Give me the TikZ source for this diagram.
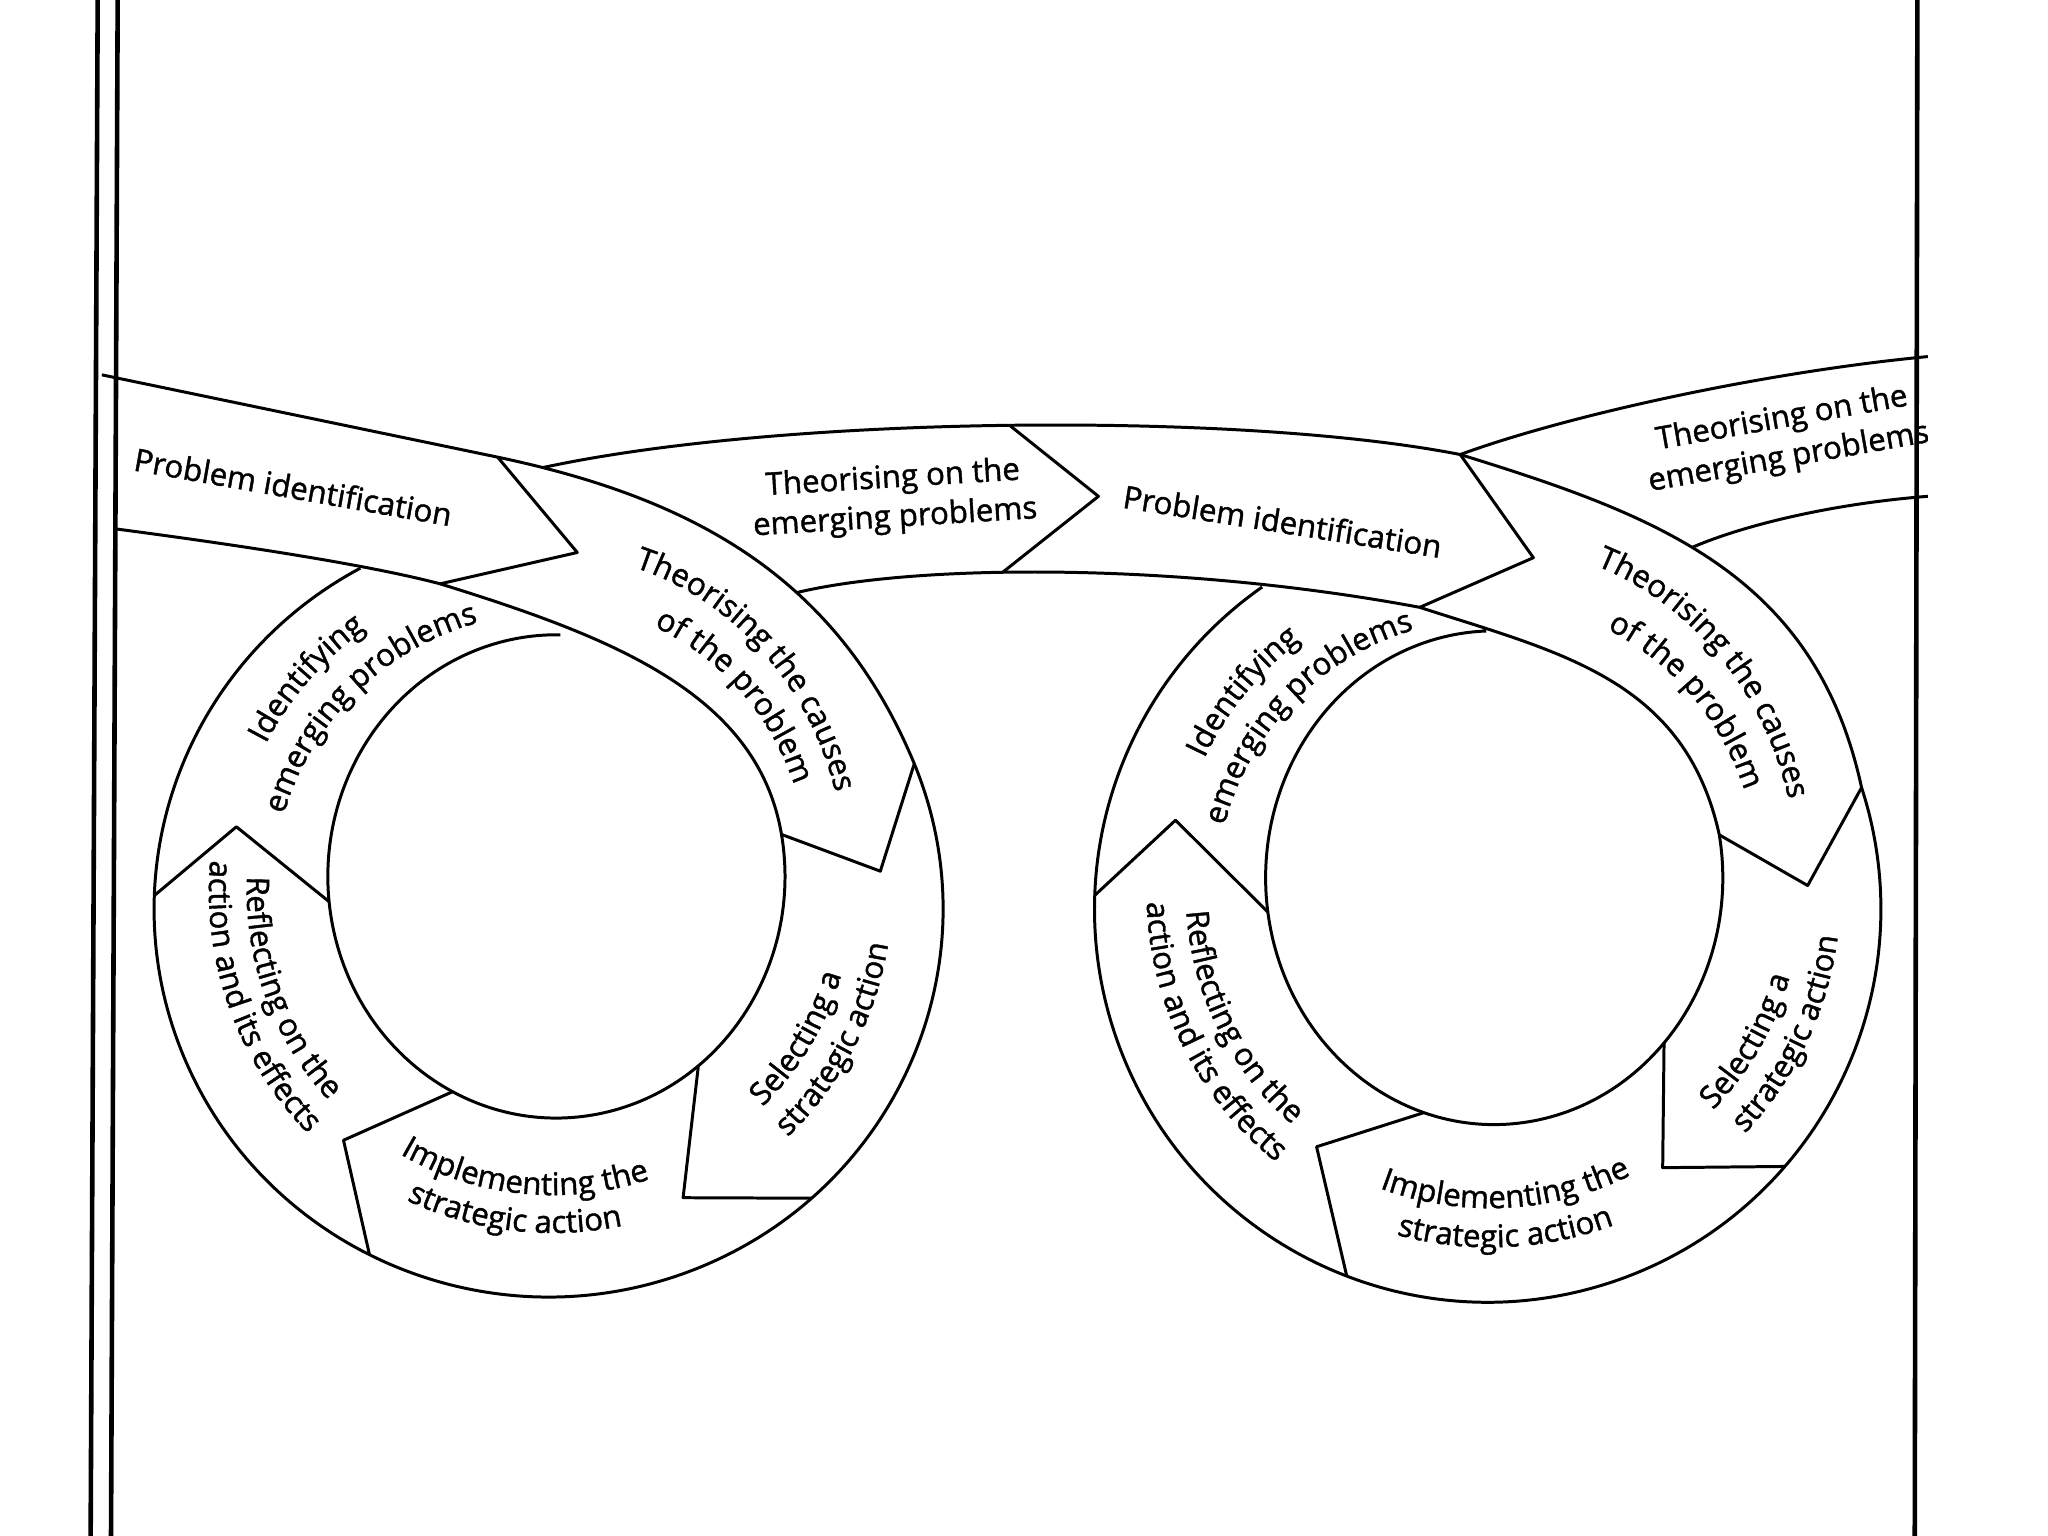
\documentclass[tikz,border=0pt]{standalone}
\usepackage{fontspec}
\setmainfont{Open Sans}
\newfontfamily\lblfam{Open Sans}[FakeBold=1.3]
\usetikzlibrary{calc,decorations.text}
\newcommand{\lblfont}{\lblfam\fontsize{6.8}{8.6}\selectfont}
\newcommand{\ringtext}[6]{%
  \path[decorate,decoration={text along path,text align=center,text={|\lblfont|#6}}]
    ($(#1)+(#4:#2 and #3)$) arc[start angle=#4,end angle=#5,x radius=#2,y radius=#3];}
\begin{document}
\begin{tikzpicture}[x=0.01cm,y=-0.01cm,
  edge/.style={draw=black,line width=0.65pt,line join=round},
  border/.style={draw=black,line width=1pt},
  lbl/.style={font=\lblfont,align=center,inner sep=0pt}]
\useasboundingbox (0,0) rectangle (1568,1176);
% page borders
\coordinate (b1t) at (74.8,0);  \coordinate (b1b) at (69.4,1176);
\coordinate (b2t) at (90.1,0);  \coordinate (b2b) at (85,1176);
\coordinate (b3t) at (1468,0);  \coordinate (b3b) at (1466,1176);
\draw[border] (b1t) -- (b1b);
\draw[border] (b2t) -- (b2b);
\draw[border] (b3t) -- (b3b);
% ---------- key points ----------
\coordinate (LO) at (420,696);  % left outer ellipse centre
\coordinate (LI) at (426,671);  % left inner ellipse centre
\coordinate (LC) at (420,669);  % left band-2 text centre
\coordinate (LR) at (423,683);  % left ring text centre
\coordinate (RO) at (1139,696);
\coordinate (RI) at (1144,672);
\coordinate (RC) at (1139,672);
\coordinate (RR) at (1141,684);
\coordinate (LA) at (381,350);
\coordinate (LT) at (442,423);
\coordinate (LB) at (337,447);
\coordinate (Lst) at (78,287);
\coordinate (Lsb) at (89,405);
\coordinate (LO2) at ($(LO)+(-22:302 and 297)$);
\coordinate (LI2) at ($(LI)+(-10:175 and 185)$);
\coordinate (Rn) at (1118,348);
\coordinate (Rt) at (1174,427);
\coordinate (Rm) at (1087,465);
\coordinate (RO2) at ($(RO)+(-18:301)$);
\coordinate (RI2) at ($(RI)+(-10:175 and 189)$);
\coordinate (Mt) at (841,380);
\coordinate (Ret) at (1476,273);
\coordinate (Reb) at (1476,380);
% ---------- left spiral ----------
\draw[edge] (Lst) -- (LA) .. controls (528,381) and (640,440) ..
   coordinate[pos=0.08] (Lcu) coordinate[pos=0.62] (Lcl) (LO2)
   arc[start angle=-22,end angle=241.5,x radius=302,y radius=297];
\draw[edge] (Lsb) .. controls (180,417) and (280,432) .. (LB)
   .. controls (469,488) and (580,531) .. (LI2)
   arc[start angle=-10,end angle=271,x radius=175,y radius=185];
\draw[edge] (LA) -- (LT) -- (LB);
% ---------- middle band ----------
\draw[edge] (Lcu) .. controls (600,318) and (950,315) .. coordinate[pos=0.5] (Mu) (Rn);
\draw[edge] (Lcl) .. controls (700,432) and (900,430) .. coordinate[pos=0.41] (Ml) (Rm)
   .. controls (1195,500) and (1290,520) .. (RI2)
   arc[start angle=-10,end angle=268,x radius=175,y radius=189];
\draw[edge] (Mu) -- (Mt) -- (Ml);
% ---------- right spiral ----------
\draw[edge] (Rn) .. controls (1270,395) and (1390,440) .. coordinate[pos=0.44] (Rcl) (RO2)
   arc[start angle=-18,end angle=235,radius=301];
\draw[edge] (Rn) -- (Rt) -- (Rm);
\draw[edge] (Rn) .. controls (1200,318) and (1350,285) .. (Ret);
\draw[edge] (Rcl) .. controls (1340,400) and (1410,385) .. (Reb);
% ---------- chevron separators, left ring ----------
\coordinate (LsT) at (674,667);
\coordinate (LsS) at (523,917);
\coordinate (LsI) at (263,873);
\coordinate (LsR) at (181,633);
\draw[edge] (LO2) -- (LsT) -- (LI2);
\draw[edge] ($(LI)+(51.6:175 and 185)$) -- (LsS) -- ($(LO)+(48.2:302 and 297)$);
\draw[edge] ($(LI)+(117:175 and 185)$) -- (LsI) -- ($(LO)+(117:302 and 297)$);
\draw[edge] ($(LO)+(182:302 and 297)$) -- (LsR) -- ($(LI)+(174:175 and 185)$);
% ---------- chevron separators, right ring ----------
\coordinate (RsT) at (1384,678);
\coordinate (RsS) at (1273,894);
\coordinate (RsI) at (1008,878);
\coordinate (RsR) at (900,628);
\draw[edge] (RO2) -- (RsT) -- (RI2);
\draw[edge] ($(RI)+(42:175 and 189)$) -- (RsS) -- ($(RO)+(40.9:301)$);
\draw[edge] ($(RI)+(107.9:175 and 189)$) -- (RsI) -- ($(RO)+(111:301)$);
\draw[edge] ($(RO)+(182:301)$) -- (RsR) -- ($(RI)+(172:175 and 189)$);
% ---------- straight labels ----------
\node[lbl,rotate=-10] (tPI1) at (224.5,372.6) {Problem identification};
\node[lbl,rotate=3.5] (tTE1) at (684.5,382) {Theorising on the\\emerging problems};
\node[lbl,rotate=-9] (tPI2) at (982,399) {Problem identification};
\begin{scope}
  \clip (0,0) rectangle (1476,1176);
  \node[lbl,rotate=10] (tTE2) at (1367,336) {Theorising on the\\emerging problems};
\end{scope}
% ---------- curved labels, left ring ----------
\ringtext{LC}{227}{245}{-89.5}{0.5}{Theorising the causes}
\ringtext{LC}{199}{207}{-88}{2}{of the problem}
\ringtext{LR}{247}{247}{176}{266}{Identifying}
\ringtext{LR}{214}{214}{180.4}{270.4}{emerging problems}
\ringtext{LR}{234}{234}{205}{115}{Reflecting on the}
\ringtext{LR}{263}{263}{205.3}{115.3}{action and its effects}
\ringtext{LR}{232}{232}{140.7}{50.7}{Implementing the}
\ringtext{LR}{261}{261}{141.7}{51.7}{strategic action}
\ringtext{LR}{230}{230}{75.8}{-14.2}{Selecting a}
\ringtext{LR}{260}{260}{72.5}{-17.5}{strategic action}
% ---------- curved labels, right ring ----------
\ringtext{RC}{237}{255}{-87.1}{2.9}{Theorising the causes}
\ringtext{RC}{207}{212}{-86.3}{3.7}{of the problem}
\ringtext{RR}{242}{242}{174.2}{264.2}{Identifying}
\ringtext{RR}{210}{210}{179.1}{269.1}{emerging problems}
\ringtext{RR}{233}{233}{198.6}{108.6}{Reflecting on the}
\ringtext{RR}{263}{263}{198.5}{108.5}{action and its effects}
\ringtext{RR}{241}{241}{132}{42}{Implementing the}
\ringtext{RR}{271}{271}{132.4}{42.4}{strategic action}
\ringtext{RR}{238}{238}{74.9}{-15.1}{Selecting a}
\ringtext{RR}{268}{268}{70.2}{-19.8}{strategic action}
\end{tikzpicture}
\end{document}
